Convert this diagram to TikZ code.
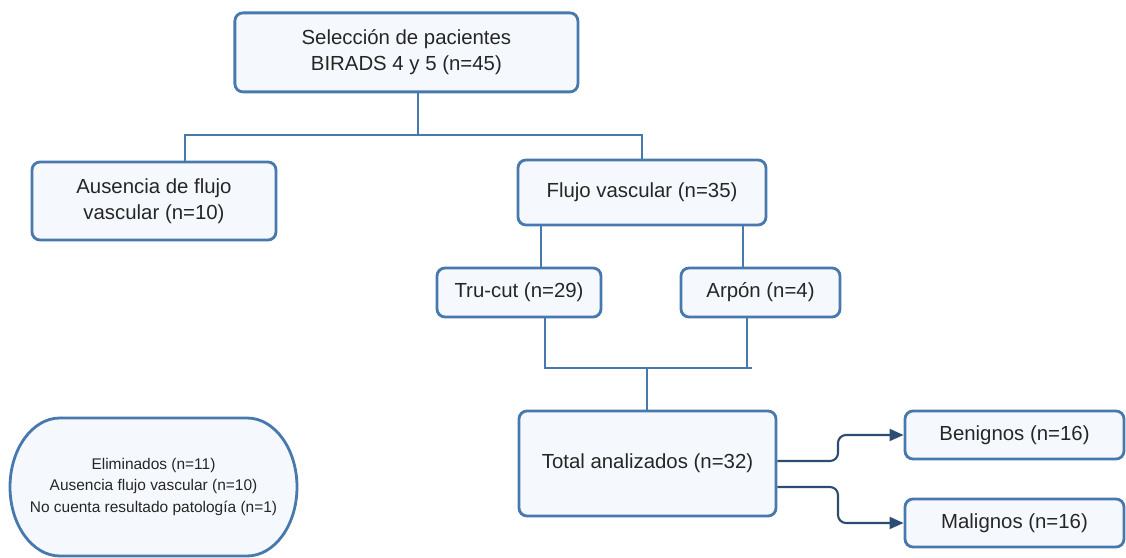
\documentclass[tikz,border=0pt]{standalone}
\usepackage{fontspec}
\setmainfont{Liberation Sans}
\usepackage{xcolor}
\usetikzlibrary{arrows.meta}

\definecolor{borde}{RGB}{72,121,174}
\definecolor{relleno}{RGB}{245,249,253}
\definecolor{flechaazul}{RGB}{44,76,114}
\definecolor{texto}{RGB}{38,38,38}

\tikzset{
	caja/.style={draw=borde, fill=relleno, line width=2pt, rounded corners=0.2cm, align=center, text=texto, inner sep=0pt, font=\fontsize{14.5}{18.5}\selectfont},
	linea/.style={draw=borde, line width=2pt},
	flecha/.style={draw=flechaazul, line width=1.5pt, rounded corners=0.2cm, -{Triangle[length=10pt, width=8.5pt]}}
}

\begin{document}
\begin{tikzpicture}
	\useasboundingbox (0,0) rectangle (28.15,13.95);

	\node[caja, minimum width=8.575cm, minimum height=1.975cm] (sel) at (10.16,12.64) {Selección de pacientes\\BIRADS 4 y 5 (n=45)};
	\node[caja, minimum width=6.1cm, minimum height=1.95cm] (aus) at (3.85,8.925) {Ausencia de flujo\\vascular (n=10)};
	\node[caja, minimum width=6.2cm, minimum height=1.625cm] (flujo) at (16.05,9.1375) {Flujo vascular (n=35)};
	\node[caja, minimum width=4.1cm, minimum height=1.225cm] (tru) at (12.975,6.6375) {Tru-cut (n=29)};
	\node[caja, minimum width=3.975cm, minimum height=1.225cm] (arpon) at (19.0125,6.6375) {Arpón (n=4)};
	\node[caja, minimum width=6.425cm, minimum height=2.625cm] (total) at (16.1875,2.3625) {Total analizados (n=32)};
	\node[caja, minimum width=5.475cm, minimum height=1.2cm] (ben) at (25.3625,3.075) {Benignos (n=16)};
	\node[caja, minimum width=5.475cm, minimum height=1.2cm] (mal) at (25.3625,0.875) {Malignos (n=16)};

	% eliminados
	\draw[draw=borde, fill=relleno, line width=2pt] (1.5,3.5) -- (6.175,3.5) arc[start angle=90, end angle=-90, x radius=1.25cm, y radius=1.725cm] -- (1.5,0.05) arc[start angle=270, end angle=90, x radius=1.25cm, y radius=1.725cm] -- cycle;
	\node[align=center, text=texto, font=\fontsize{11}{15}\selectfont] (elim) at (3.8375,1.775) {Eliminados (n=11)\\Ausencia flujo vascular (n=10)\\No cuenta resultado patología (n=1)};

	\coordinate (j1) at (10.45,10.575);
	\coordinate (j2) at (4.625,10.575);
	\coordinate (j3) at (16.05,10.575);
	\draw[linea] (sel.south -| j1) -- (j1);
	\draw[linea] (aus.north -| j2) -- (j2) -- (j3) -- (flujo.north -| j3);

	\coordinate (t1) at (13.525,8);
	\coordinate (a1) at (18.575,8);
	\draw[linea] (flujo.south -| t1) -- (tru.north -| t1);
	\draw[linea] (flujo.south -| a1) -- (arpon.north -| a1);

	\coordinate (t2) at (13.625,4.75);
	\coordinate (a2) at (18.675,4.75);
	\coordinate (a3) at (18.8,4.75);
	\coordinate (m1) at (16.175,4.75);
	\draw[linea] (tru.south -| t2) -- (t2) -- (a3);
	\draw[linea] (arpon.south -| a2) -- (a2);
	\draw[linea] (m1) -- (total.north -| m1);

	\coordinate (b1) at (20.95,2.425);
	\coordinate (b2) at (20.95,1.775);
	\draw[flecha] (total.east |- b1) -- (b1) -- (b1 |- ben.west) -- (ben.west);
	\draw[flecha] (total.east |- b2) -- (b2) -- (b2 |- mal.west) -- (mal.west);

	% \draw[help lines] (0,0) grid (28,14);
\end{tikzpicture}
\end{document}
